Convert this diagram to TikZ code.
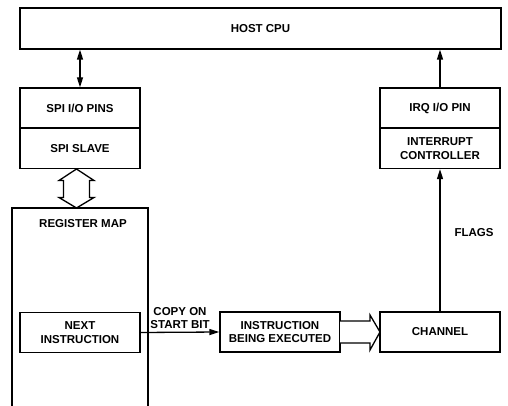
\documentclass[tikz,border=0pt]{standalone}
\usepackage{fontspec}
\setmainfont{Liberation Sans}
\usetikzlibrary{arrows.meta}
\begin{document}
\begin{tikzpicture}[x=1pt,y=-1pt,
  every node/.style={font=\fontsize{11.5}{13.5}\selectfont\bfseries, align=center},
  blk/.style={draw, line width=1.3pt, inner sep=0pt},
  tip/.tip={Triangle[length=10pt,width=6pt]},
  conn/.style={line width=1.3pt, -tip},
  hollow/.style={draw, line width=1.3pt, fill=white}]
\useasboundingbox (0,0) rectangle (508,406);
% boxes
\node[blk, minimum width=481pt, minimum height=41pt] (cpu) at (260.5,28.5) {HOST CPU};
\node[blk, minimum width=120pt, minimum height=40pt] (spipins) at (80,108) {SPI I/O PINS};
\node[blk, minimum width=120pt, minimum height=40pt] (spislave) at (80,148.5) {SPI SLAVE};
\node[blk, minimum width=120pt, minimum height=40pt] (irq) at (440,108) {IRQ I/O PIN};
\node[blk, minimum width=120pt, minimum height=40pt] (intc) at (440,148.5) {INTERRUPT\\CONTROLLER};
\node[blk, minimum width=120pt, minimum height=40pt] (next) at (80,332.5) {NEXT\\INSTRUCTION};
\node[blk, minimum width=120pt, minimum height=40pt] (exec) at (280,332) {INSTRUCTION\\BEING EXECUTED};
\node[blk, minimum width=120pt, minimum height=40pt] (chan) at (440,332) {CHANNEL};
% register map (open at bottom)
\coordinate (rmbl) at (12,406);
\coordinate (rmtl) at (12,208);
\coordinate (rmtr) at (148,208);
\coordinate (rmbr) at (148,406);
\draw[line width=1.3pt] (rmbl) -- (rmtl) -- (rmtr) -- (rmbr);
\node (rmlabel) at (83,224) {REGISTER MAP};
% connectors
\draw[line width=1.3pt, tip-tip] (cpu.south -| spipins.north) -- (spipins.north);
\draw[conn] (irq.north) -- (cpu.south -| irq.north);
\draw[conn] (chan.north) -- (intc.south);
\node[anchor=west] (flags) at (451,233) {FLAGS};
\draw[conn] (next.east) -- (exec.west);
\node (copy) at (180,318) {COPY ON\\START BIT};
% hollow double arrow between SPI slave and register map
\draw[hollow] (76.5,169) -- (94,180.5) -- (89.5,180.5) -- (89.5,197.5) -- (94,197.5) -- (76.5,208)
  -- (59,197.5) -- (63.5,197.5) -- (63.5,180.5) -- (59,180.5) -- cycle;
% hollow arrow exec -> channel
\draw[hollow] (340,321) -- (370,321) -- (370,315) -- (380,332) -- (370,350) -- (370,343) -- (340,343);
\end{tikzpicture}
\end{document}
